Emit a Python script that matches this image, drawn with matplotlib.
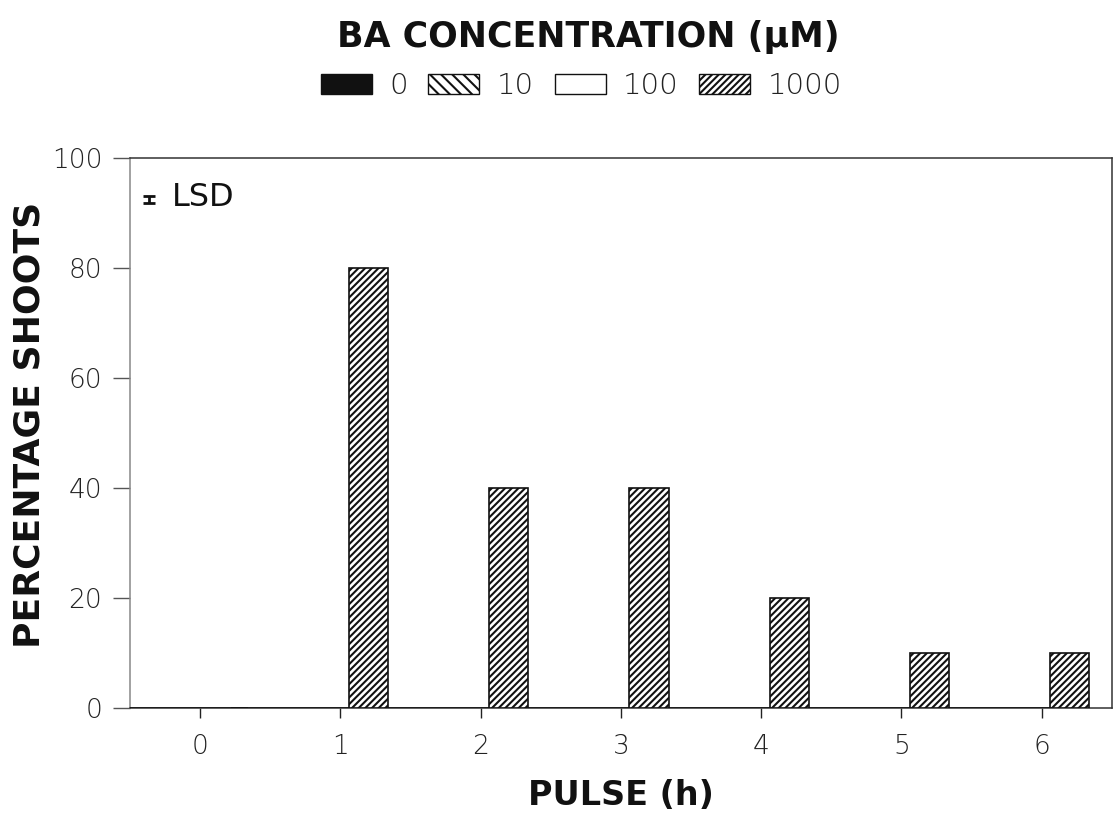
import matplotlib
matplotlib.use("Agg")
import matplotlib.pyplot as plt
import matplotlib.patches as mpatches
import numpy as np

plt.rcParams['hatch.linewidth'] = 1.5

pulse_hours = [0, 1, 2, 3, 4, 5, 6]
ba_labels = ["0", "10", "100", "1000"]
shoots_ba0 = [0, 0, 0, 0, 0, 0, 0]
shoots_ba10 = [0, 0, 0, 0, 0, 0, 0]
shoots_ba100 = [0, 0, 0, 0, 0, 0, 0]
shoots_ba1000 = [0, 80, 40, 40, 20, 10, 10]
y_ticks = [0, 20, 40, 60, 80, 100]

series = [shoots_ba0, shoots_ba10, shoots_ba100, shoots_ba1000]
styles = [dict(facecolor="#111111", hatch=None),
          dict(facecolor="white", hatch="\\\\\\"),
          dict(facecolor="white", hatch=None),
          dict(facecolor="white", hatch="/////")]
offsets = [-0.64, -0.36, -0.08, 0.2]
width = 0.28

thin = dict(family=["DejaVu Sans"], fontweight=200)
bold = dict(family=["DejaVu Sans"], fontweight="bold", color="#111111")

fig = plt.figure(figsize=(11.14, 8.19), dpi=100)
ax = fig.add_axes([0.1167, 0.1355, 0.8813, 0.6715])

x = np.array(pulse_hours, dtype=float)
for vals, st, off in zip(series, styles, offsets):
    ax.bar(x + off, vals, width=width, facecolor=st["facecolor"], hatch=st["hatch"],
           edgecolor="#111111", linewidth=1.2, zorder=3)

ax.set_xlim(-0.5, 6.5)
ax.set_ylim(0, 100)
ax.set_xticks(pulse_hours)
ax.set_xticklabels([str(p) for p in pulse_hours], fontsize=19, **thin)
ax.set_yticks(y_ticks)
ax.set_yticklabels([str(t) for t in y_ticks], fontsize=19, **thin)
ax.tick_params(axis="x", direction="out", length=7, width=1.0, pad=12, colors="#222222")
ax.tick_params(axis="y", direction="out", length=12, width=1.0, pad=8, colors="#555555")
for lab in ax.get_xticklabels() + ax.get_yticklabels():
    lab.set_color("#222222")
for s in ["left", "top", "right", "bottom"]:
    ax.spines[s].set_linewidth(1.1)
    ax.spines[s].set_color("#333333")
ax.spines["left"].set_color("#888888")

ax.set_xlabel("PULSE (h)", fontsize=24, labelpad=14, **bold)
ylab = ax.set_ylabel("PERCENTAGE SHOOTS", fontsize=26, va="center", **bold)
ax.yaxis.set_label_coords(-0.102, 0.515)

# LSD indicator
ax.errorbar([-0.365], [92.5], yerr=[0.65], color="#111111", capsize=4.3, elinewidth=2,
            capthick=2, zorder=4)
ax.text(-0.205, 92.8, "LSD", fontsize=23, va="center", ha="left",
        family=["DejaVu Sans"], color="#111111")

fig.text(0.528, 0.955, "BA CONCENTRATION (\u00b5M)", fontsize=25, ha="center", va="center", **bold)

handles = [mpatches.Patch(facecolor=st["facecolor"], hatch=st["hatch"], edgecolor="#111111",
                          linewidth=1.0) for st in styles]
leg = fig.legend(handles, ba_labels, loc="center", bbox_to_anchor=(0.522, 0.895), ncol=4,
                 frameon=False, handlelength=1.75, handleheight=0.7, handletextpad=0.6,
                 columnspacing=0.7, prop=dict(family="DejaVu Sans", weight=200, size=21))
for t in leg.get_texts():
    t.set_color("#222222")

fig.savefig("out.png", dpi=100)
